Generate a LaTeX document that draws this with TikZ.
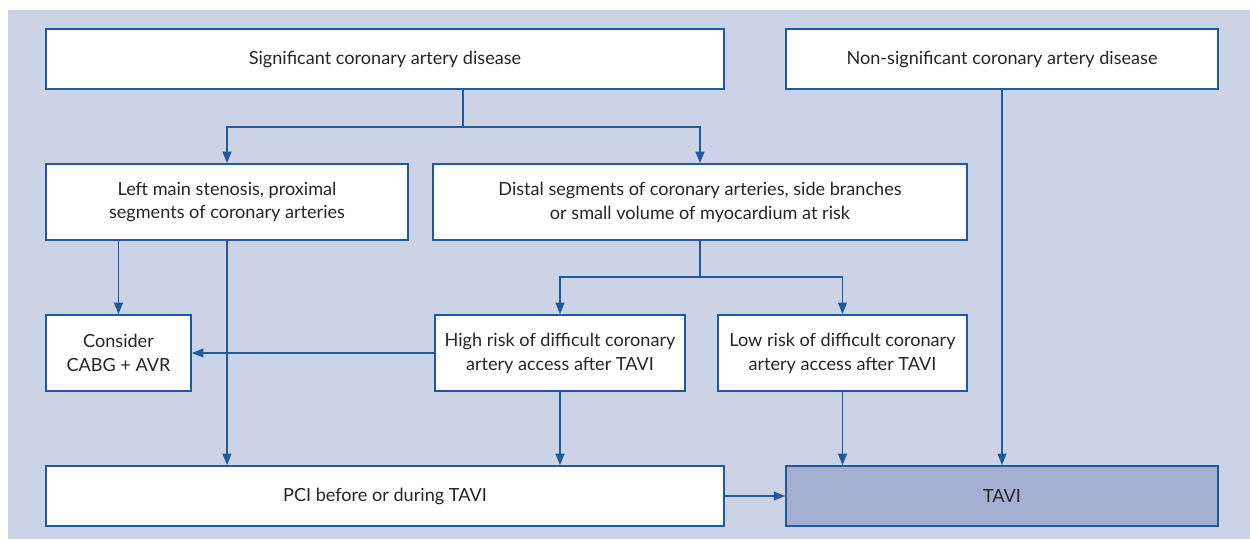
\documentclass[tikz,border=0pt]{standalone}
\usepackage{fontspec}
\setmainfont{Lato}
\usetikzlibrary{arrows.meta}

\definecolor{panelbg}{HTML}{CDD3E6}
\definecolor{linkblue}{HTML}{1F5AA0}
\definecolor{tavifill}{HTML}{A5AFD2}

\tikzset{
  flowbox/.style={draw=linkblue,line width=1pt,fill=white,inner sep=2pt,
    align=center,font=\fontsize{10.3}{13.6}\selectfont,text=black!85},
  flowlink/.style={draw=linkblue,line width=0.8pt,-{Triangle[length=6.5pt,width=5pt]}},
  flowline/.style={draw=linkblue,line width=0.8pt}
}

\begin{document}
\begin{tikzpicture}[x=0.02cm,y=-0.02cm]
\useasboundingbox (0,0) rectangle (1250,539);
\fill[panelbg] (8,10) rectangle (1250,539);

% top row
\node[flowbox,minimum width=13.56cm,minimum height=1.2cm] (sig) at (385,59) {Significant coronary artery disease};
\node[flowbox,minimum width=8.64cm,minimum height=1.2cm] (nonsig) at (1002,59) {Non-significant coronary artery disease};

% second row
\node[flowbox,minimum width=7.24cm,minimum height=1.52cm] (leftmain) at (227,202) {Left main stenosis, proximal\\segments of coronary arteries};
\node[flowbox,minimum width=10.68cm,minimum height=1.52cm] (distal) at (700,202) {Distal segments of coronary arteries, side branches\\or small volume of myocardium at risk};

% third row
\node[flowbox,minimum width=2.9cm,minimum height=1.52cm] (cabg) at (118.5,353) {Consider\\CABG + AVR};
\node[flowbox,minimum width=5cm,minimum height=1.52cm] (highrisk) at (560,353) {High risk of difficult coronary\\artery access after TAVI};
\node[flowbox,minimum width=4.98cm,minimum height=1.52cm] (lowrisk) at (842.5,353) {Low risk of difficult coronary\\artery access after TAVI};

% bottom row
\node[flowbox,minimum width=13.56cm,minimum height=1.2cm] (pci) at (385,496) {PCI before or during TAVI};
\node[flowbox,fill=tavifill,minimum width=8.64cm,minimum height=1.2cm] (tavi) at (1002,496) {TAVI};

% branching
\coordinate (fork1) at (463,127);
\coordinate (fork2) at (700,277);
\draw[flowline] (sig.south -| fork1) -- (fork1);
\draw[flowlink] (fork1) -| (leftmain.north);
\draw[flowlink] (fork1) -| (distal.north);
\draw[flowline] (distal.south) -- (fork2);
\draw[flowlink] (fork2) -| (highrisk.north);
\draw[flowlink] (fork2) -| (lowrisk.north);

% straight arrows
\draw[flowlink] (leftmain.south -| cabg.north) -- (cabg.north);
\draw[flowlink] (leftmain.south) -- (leftmain.south |- pci.north);
\draw[flowlink] (highrisk.west) -- (cabg.east);
\draw[flowlink] (highrisk.south) -- (highrisk.south |- pci.north);
\draw[flowlink] (lowrisk.south) -- (lowrisk.south |- tavi.north);
\draw[flowlink] (nonsig.south) -- (nonsig.south |- tavi.north);
\draw[flowlink] (pci.east) -- (tavi.west);
\end{tikzpicture}
\end{document}
